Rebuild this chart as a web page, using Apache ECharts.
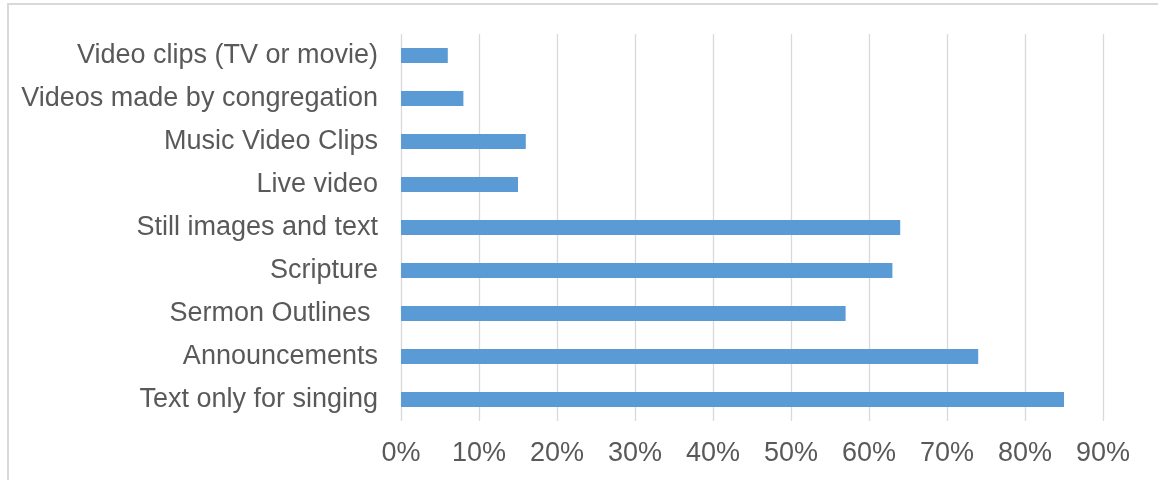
<!DOCTYPE html>
<html>
<head>
<meta charset="utf-8">
<script src="https://cdn.jsdelivr.net/npm/echarts@6/dist/echarts.min.js"></script>
<style>
  html, body { margin: 0; padding: 0; background: #fff; }
  #chart { width: 1158px; height: 480px; }
</style>
</head>
<body>
<div id="chart"></div>
<script>
// Media types used in worship, listed top to bottom
const categories = [
  'Video clips (TV or movie)',
  'Videos made by congregation',
  'Music Video Clips',
  'Live video',
  'Still images and text',
  'Scripture',
  'Sermon Outlines ',
  'Announcements',
  'Text only for singing'
];
// Share of respondents using each type (percent)
const usage = [6, 8, 16, 15, 64, 63, 57, 74, 85];
// Percent axis ticks
const tickValues = [0, 10, 20, 30, 40, 50, 60, 70, 80, 90];

const textColor = '#595959';
const font = '"Liberation Sans", Arial, sans-serif';

const chart = echarts.init(document.getElementById('chart'), null, { renderer: 'canvas' });
chart.setOption({
  animation: false,
  backgroundColor: '#ffffff',
  graphic: [{
    type: 'rect',
    shape: { x: 8, y: 4, width: 1170, height: 500 },
    style: { fill: 'none', stroke: '#d9d9d9', lineWidth: 2 },
    silent: true
  }],
  grid: { left: 401, right: 55, top: 34, bottom: 59, containLabel: false },
  xAxis: {
    type: 'value',
    min: tickValues[0],
    max: tickValues[tickValues.length - 1],
    interval: 10,
    axisLine: { show: false },
    axisTick: { show: false },
    splitLine: { show: true, lineStyle: { color: '#d9d9d9', width: 1.3 } },
    axisLabel: {
      color: textColor,
      fontFamily: font,
      fontSize: 27,
      margin: 19,
      formatter: v => v + '%'
    }
  },
  yAxis: {
    type: 'category',
    data: categories,
    inverse: true,
    axisLine: { show: false },
    axisTick: { show: false },
    splitLine: { show: false },
    axisLabel: {
      color: textColor,
      fontFamily: font,
      fontSize: 27,
      margin: 23
    }
  },
  series: [{
    type: 'bar',
    data: usage,
    barWidth: 15,
    itemStyle: { color: '#5b9bd5' }
  }]
});
</script>
</body>
</html>
